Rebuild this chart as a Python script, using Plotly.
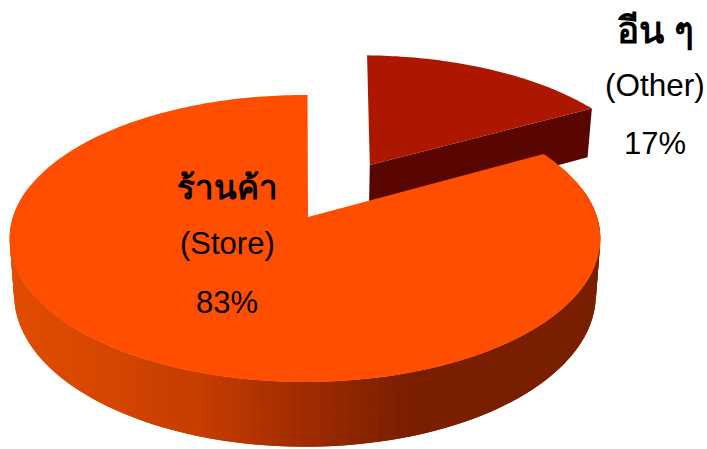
import numpy as np
import plotly.graph_objects as go

# ---- data ----
categories = ["ร้านค้า", "อีน ๆ"]
subtitles = ["(Store)", "(Other)"]
values = [83, 17]

# ---- colours ----
TOP_MAIN = "#FF4E00"
TOP_OTHER = "#AD1700"
WALL_OTHER = "#590500"
wall_stops_x = [15, 100, 200, 260, 340, 410, 600]
wall_stops_rgb = [(224, 77, 0), (214, 71, 0), (198, 61, 0), (176, 51, 0), (146, 40, 0), (122, 30, 0), (122, 30, 0)]

# ---- projection of a tilted disc ----
XC, YC, A, B, K = 305.0, 217.0, 292.0, 140.3, 0.15
H = 55.0
LOWER_SCALE = 0.985
APEX_DX = 3.0


def top(u, v):
    w = 1 + K * np.asarray(v, float)
    return XC + A * np.asarray(u, float) / w, YC - B * np.asarray(v, float) / w


def low(u, v):
    w = 1 + K * np.asarray(v, float)
    x, y = top(u, v)
    return XC + (x - XC) * LOWER_SCALE, y + H / w


fig = go.Figure()


def poly(x, y, color):
    fig.add_trace(go.Scatter(x=list(x), y=list(y), mode="none", fill="toself", fillcolor=color,
                             hoverinfo="skip", showlegend=False))


total = sum(values)
split = 2 * np.pi * values[1] / total

# exploded slice (drawn first, behind the main one)
du, dv = 0.235, 0.393
ROT = 0.022
t = np.linspace(ROT, split, 60)
u = np.sin(t) + du
v = np.cos(t) + dv
ax, ay = top(du, dv)
bx, by = low(du, dv)
ex, ey = top(u[-1], v[-1])
fx, fy = low(u[-1], v[-1])
poly([ax, ex, fx, bx, ax], [ay, ey, fy, by, ay], WALL_OTHER)
x, y = top(u, v)
poly(np.r_[ax, x, ax], np.r_[ay, y, ay], TOP_OTHER)

# main slice: curved wall as shaded bands, painted right to left with overlap
t = np.linspace(split, 2 * np.pi, 181)
u, v = np.sin(t), np.cos(t)
tx, ty = top(u, v)
lx, ly = low(u, v)
for i in range(len(t) - 2):
    if v[i] > 0.2 and v[i + 1] > 0.2:
        continue
    mid = (tx[i] + tx[i + 1]) / 2
    rgb = [int(np.interp(mid, wall_stops_x, [c[j] for c in wall_stops_rgb])) for j in range(3)]
    col = f"rgb({rgb[0]},{rgb[1]},{rgb[2]})"
    poly([tx[i], tx[i + 2], lx[i + 2], lx[i], tx[i]], [ty[i], ty[i + 2], ly[i + 2], ly[i], ty[i]], col)

# main slice top
t2 = np.linspace(split, 2 * np.pi + 0.01, 300)
tx, ty = top(np.sin(t2), np.cos(t2))
ax, ay = top(0, 0)
ax = ax + APEX_DX
poly(np.r_[ax, tx, ax], np.r_[ay, ty, ay], TOP_MAIN)

FONT = "Liberation Sans, Arial, sans-serif"
labels = [
    (227, 187, categories[0], 33, True), (227, 243, subtitles[0], 31, False), (227, 302, f"{values[0]}%", 31, False),
    (655, 30, categories[1], 37, True), (655, 85, subtitles[1], 31.5, False), (655, 143, f"{values[1]}%", 31, False),
]
for lx_, ly_, txt, size, bold in labels:
    fig.add_annotation(x=lx_, y=ly_, text=f"<b>{txt}</b>" if bold else txt, showarrow=False,
                       xanchor="center", yanchor="middle", font=dict(family=FONT, size=size, color="black"))

fig.update_layout(
    width=707, height=449, margin=dict(l=0, r=0, t=0, b=0),
    paper_bgcolor="white", plot_bgcolor="white", showlegend=False,
    xaxis=dict(range=[0, 707], visible=False, fixedrange=True),
    yaxis=dict(range=[449, 0], visible=False, fixedrange=True),
)
fig.write_html("out.html", config={"displayModeBar": False},
               post_script="document.body.style.margin='0';document.body.style.overflow='hidden';")
